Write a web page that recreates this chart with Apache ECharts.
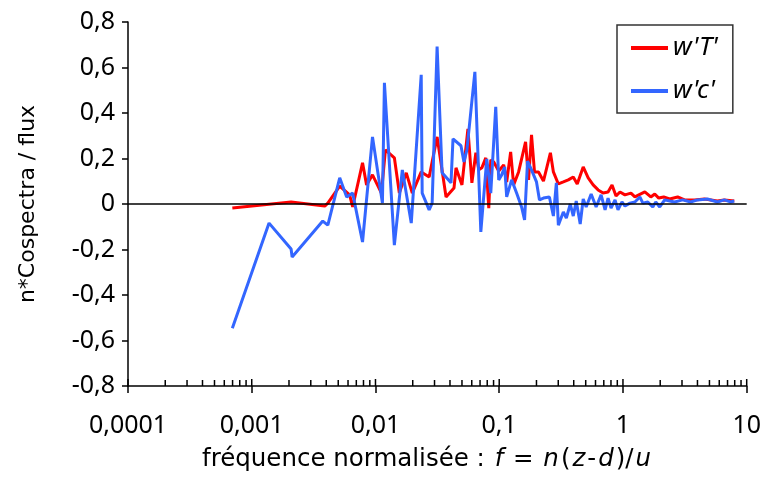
<!DOCTYPE html>
<html>
<head>
<meta charset="utf-8">
<script src="https://cdn.jsdelivr.net/npm/echarts@6/dist/echarts.min.js"></script>
<style>html,body{margin:0;padding:0;background:#fff}#c{width:764px;height:479px}</style>
</head>
<body>
<div id="c"></div>
<script>
// w'T' series
const freqT = [0.000697,0.00208,0.00389,0.00412,0.00514,0.00618,0.00654,0.00786,0.00847,0.00946,
  0.01117,0.01203,0.01421,0.01559,0.01774,0.01983,0.02342,0.02715,0.03148,0.03718,
  0.04311,0.04474,0.04998,0.05585,0.06013,0.06475,0.06844,0.07234,0.0779,0.08234,
  0.08544,0.09032,0.09908,0.1087,0.1149,0.1237,0.1308,0.1434,0.1633,0.1726,
  0.1824,0.1928,0.2077,0.2278,0.2592,0.274,0.3005,0.3298,0.3617,0.3967,
  0.4271,0.4772,0.5235,0.5741,0.6299,0.6909,0.7579,0.8161,0.8787,0.9461,
  1.038,1.160,1.249,1.344,1.502,1.679,1.807,1.946,2.135,2.385,
  2.766,3.148,3.787,4.556,5.796,6.596,7.936];
const valT = [-0.018,0.009,-0.009,0.004,0.079,0.040,-0.013,0.181,0.084,0.128,
  0.048,0.238,0.203,0.048,0.137,0.048,0.141,0.119,0.295,0.031,
  0.070,0.159,0.084,0.330,0.093,0.225,0.150,0.159,0.203,-0.018,
  0.194,0.185,0.145,0.172,0.097,0.229,0.084,0.141,0.273,0.106,
  0.304,0.141,0.141,0.101,0.225,0.141,0.088,0.097,0.106,0.119,
  0.088,0.163,0.115,0.084,0.062,0.048,0.053,0.084,0.035,0.053,
  0.040,0.048,0.031,0.040,0.053,0.031,0.044,0.026,0.031,0.022,
  0.031,0.018,0.018,0.022,0.013,0.018,0.013];
// w'c' series
const freqC = [0.000697,0.00138,0.00208,0.00212,0.00375,0.00412,0.00514,0.00585,0.00654,0.00786,
  0.00946,0.01138,0.01181,0.01421,0.01648,0.01946,0.02342,0.02385,0.02715,0.0287,
  0.03148,0.03453,0.04078,0.04232,0.04907,0.05187,0.05483,0.06357,0.07102,0.07935,
  0.08544,0.09373,0.09908,0.1047,0.1107,0.1149,0.1260,0.1382,0.1516,0.1603,
  0.1694,0.1824,0.2001,0.2115,0.2278,0.2544,0.274,0.2896,0.3005,0.3298,
  0.3486,0.3753,0.3967,0.4193,0.4514,0.4772,0.5044,0.5534,0.6069,0.6658,
  0.717,0.7579,0.8012,0.8627,0.9117,0.9818,1.038,1.138,1.249,1.369,
  1.448,1.588,1.742,1.841,1.982,2.174,2.385,2.616,3.034,3.518,
  4.003,4.816,5.796,6.596,7.370,7.936];
const valC = [-0.546,-0.084,-0.198,-0.233,-0.075,-0.093,0.115,0.031,0.048,-0.167,
  0.295,0.004,0.533,-0.181,0.150,-0.084,0.568,0.048,-0.026,0.004,
  0.692,0.137,0.093,0.286,0.256,0.185,0.238,0.581,-0.123,0.198,
  0.048,0.427,0.106,0.128,0.163,0.031,0.106,0.048,-0.013,-0.070,
  0.189,0.150,0.097,0.018,0.026,0.031,-0.053,0.093,-0.093,-0.035,
  -0.062,0.000,-0.053,0.013,-0.088,0.022,-0.013,0.044,-0.013,0.040,
  -0.026,0.026,-0.018,0.018,-0.026,0.009,-0.009,0.004,0.009,0.031,
  0.004,0.009,-0.013,0.009,-0.013,0.018,0.013,0.009,0.018,0.009,
  0.018,0.022,0.009,0.018,0.009,0.013];
const seriesNames = ["w'T'", "w'c'"];
const xMajorTicks = [0.0001,0.001,0.01,0.1,1,10];
const yRange = [-0.8, 0.8];

const FONT = 'Noto Sans';
const TFONT = 'DejaVu Sans';
const tickData = [];
const tickMajor = [];
xMajorTicks.forEach((d, i) => {
  tickData.push([d, yRange[0]]); tickMajor.push(true);
  if (i < xMajorTicks.length - 1) for (let k = 2; k <= 9; k++) { tickData.push([+(k * d).toPrecision(3), yRange[0]]); tickMajor.push(false); }
});
function fmtX(v){
  const e = Math.round(Math.log10(v));
  return e >= 0 ? String(Math.pow(10, e)) : '0,' + '0'.repeat(-e - 1) + '1';
}
const chart = echarts.init(document.getElementById('c'), null, {renderer: 'canvas'});
chart.setOption({
  animation: false,
  backgroundColor: '#fff',
  grid: {left: 128, right: 16, top: 22, bottom: 93, containLabel: false},
  legend: {
    data: seriesNames, orient: 'vertical', left: 617, top: 25,
    padding: [10, 15, 9, 14], itemGap: 17, itemWidth: 37, itemHeight: 4, icon: 'rect',
    borderColor: '#333', borderWidth: 1.5, backgroundColor: '#fff',
    textStyle: {fontFamily: FONT, fontSize: 26, fontStyle: 'italic', color: '#000'}
  },
  xAxis: {
    type: 'log', logBase: 10, min: 0.0001, max: 10,
    axisLine: {show: true, onZero: false, lineStyle: {color: '#000', width: 1.5}},
    axisTick: {show: true, length: 7, lineStyle: {color: '#000', width: 1.5}},
    minorTick: {show: false}, splitLine: {show: false},
    axisLabel: {formatter: fmtX, fontFamily: FONT, fontSize: 25, color: '#000', margin: 27}
  },
  yAxis: {
    type: 'value', min: yRange[0], max: yRange[1], interval: 0.2,
    name: 'n*Cospectra / flux', nameLocation: 'middle', nameGap: 89,
    nameTextStyle: {fontFamily: TFONT, fontSize: 22, color: '#000'},
    axisLine: {show: true, onZero: false, lineStyle: {color: '#000', width: 1.5}},
    axisTick: {show: true, length: 6, lineStyle: {color: '#000', width: 1.5}},
    splitLine: {show: false},
    axisLabel: {formatter: v => Math.abs(v) < 1e-9 ? '0' : v.toFixed(1).replace('.', ','),
      fontFamily: FONT, fontSize: 25, color: '#000', margin: 13}
  },
  graphic: [{
    type: 'text', left: 202, top: 447,
    style: {
      text: '{a|fréquence normalisée : }{i|f}{a| = }{i|n}{a|(}{i|z}{a|-}{i|d}{a|)/}{i|u}',
      rich: {
        a: {fontFamily: TFONT, fontSize: 24.5, fill: '#000'},
        i: {fontFamily: TFONT, fontSize: 24.5, fontStyle: 'italic', fill: '#000', padding: [0, 2, 0, 2]}
      }
    }
  }],
  series: [
    {name: seriesNames[0], type: 'line', data: freqT.map((f, i) => [f, valT[i]]),
      symbol: 'none', color: '#FF0000', lineStyle: {width: 3, color: '#FF0000'}, z: 2},
    {name: seriesNames[1], type: 'line', data: freqC.map((f, i) => [f, valC[i]]),
      symbol: 'none', color: '#3366FF', lineStyle: {width: 3, color: '#3366FF'}, z: 3},
    {name: 'zero', type: 'line', data: [[0.0001, 0], [10, 0]], symbol: 'none', silent: true,
      lineStyle: {width: 1.5, color: '#000'}, z: 4},
    {name: 'ticks', type: 'custom', data: tickData, silent: true, z: 5, clip: false,
      encode: {x: 0, y: 1},
      renderItem: (params, api) => {
        const p = api.coord([api.value(0), api.value(1)]);
        const major = tickMajor[params.dataIndex];
        return {type: 'line', shape: {x1: p[0], y1: p[1] - (major ? 7 : 6), x2: p[0], y2: p[1]},
          style: {stroke: '#000', lineWidth: 1.5}};
      }}
  ]
});
</script>
</body>
</html>
